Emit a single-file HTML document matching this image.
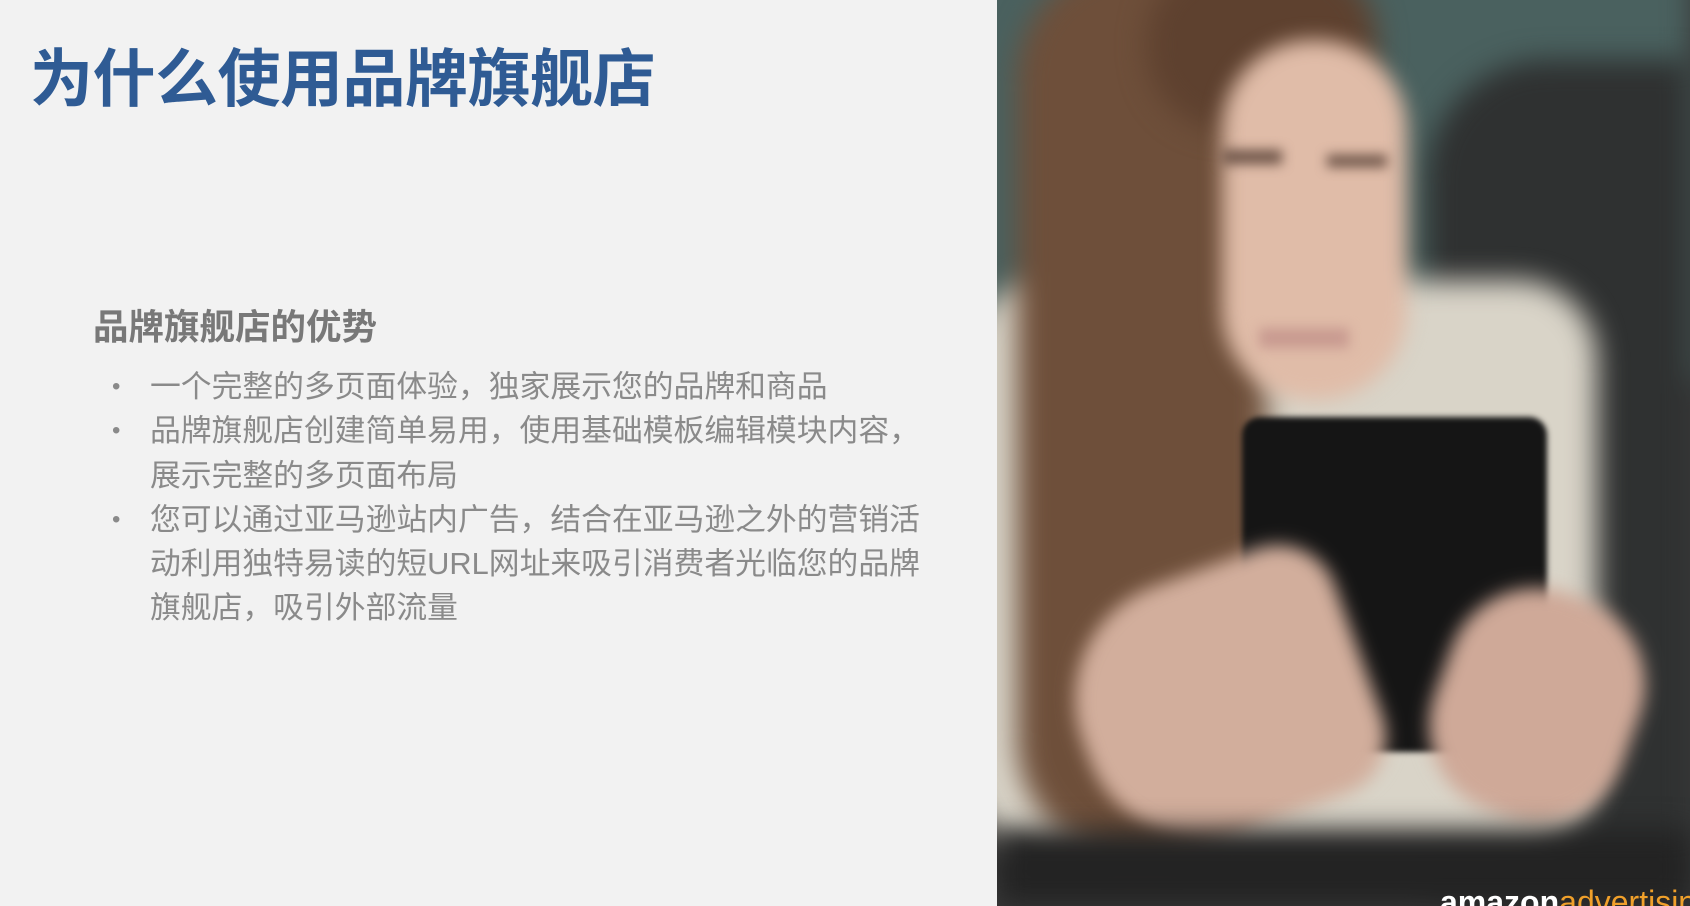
<!DOCTYPE html>
<html><head><meta charset="utf-8">
<style>
*{margin:0;padding:0;box-sizing:border-box}
html,body{width:1690px;height:906px;overflow:hidden}
body{background:#f2f2f2;position:relative;font-family:"Liberation Sans","Noto Sans CJK SC",sans-serif}
.abs{position:absolute}
#title{left:30px;top:44px;font-size:63px;font-weight:bold;color:#2f5b94;white-space:nowrap;line-height:72px;letter-spacing:-0.5px}
#sub{left:93px;top:305px;font-size:35.5px;font-weight:bold;color:#787878;white-space:nowrap;line-height:44px}
ul{position:absolute;left:112px;top:365px;width:820px;list-style:none;color:#8a8a8a;font-size:30.8px;line-height:44.3px;white-space:nowrap}
li{position:relative;padding-left:38px}
li:before{content:"•";position:absolute;left:0;top:0;font-size:24px;color:#8a8a8a}
#photo{left:997px;top:0;width:693px;height:906px;overflow:hidden;background:#3a3a3a}
.b{position:absolute;filter:blur(14px)}
</style></head><body>
<div id="title" class="abs">为什么使用品牌旗舰店</div>
<div id="sub" class="abs">品牌旗舰店的优势</div>
<ul>
<li>一个完整的多页面体验，独家展示您的品牌和商品</li>
<li>品牌旗舰店创建简单易用，使用基础模板编辑模块内容，<br>展示完整的多页面布局</li>
<li>您可以通过亚马逊站内广告，结合在亚马逊之外的营销活<br>动利用独特易读的短URL网址来吸引消费者光临您的品牌<br>旗舰店，吸引外部流量</li>
</ul>
<div id="photo" class="abs">
 <div class="b" style="left:-40px;top:-40px;width:733px;height:420px;background:#4a615f"></div>
 <div class="b" style="left:430px;top:60px;width:263px;height:846px;background:#2f3131;border-radius:120px 0 0 0"></div>
 <div class="b" style="left:-30px;top:280px;width:630px;height:570px;background:#d9d4c8;border-radius:80px"></div>
 <div class="b" style="left:20px;top:-40px;width:250px;height:900px;background:#6e4f3a;border-radius:120px"></div>
 <div class="b" style="left:150px;top:-40px;width:230px;height:170px;background:#5e412f;border-radius:80px"></div>
 <div class="b" style="left:225px;top:40px;width:185px;height:360px;background:#e0bca8;border-radius:90px;filter:blur(10px)"></div>
 <div class="b" style="left:225px;top:150px;width:60px;height:14px;background:#6b5246;filter:blur(6px)"></div>
 <div class="b" style="left:330px;top:155px;width:60px;height:12px;background:#6b5246;filter:blur(6px)"></div>
 <div class="b" style="left:262px;top:328px;width:90px;height:20px;background:#c89a90;filter:blur(6px)"></div>
 <div class="abs" style="left:245px;top:417px;width:305px;height:335px;background:#151515;border-radius:18px;filter:blur(3px)"></div>
 <div class="b" style="left:80px;top:570px;width:290px;height:260px;background:#d2ae9c;border-radius:120px 60px 60px 120px;transform:rotate(-20deg);filter:blur(9px)"></div>
 <div class="b" style="left:440px;top:590px;width:200px;height:230px;background:#cfa998;border-radius:90px;transform:rotate(20deg);filter:blur(9px)"></div>
 <div class="b" style="left:0;top:830px;width:693px;height:76px;background:#232323"></div>
 <div class="abs" style="left:443px;top:882px;width:250px;height:24px;overflow:hidden;font-size:32px;line-height:40px;white-space:nowrap"><span style="color:#fff;font-weight:bold">amazon</span><span style="color:#f0a02a">advertising</span></div>
</div>
</body></html>
